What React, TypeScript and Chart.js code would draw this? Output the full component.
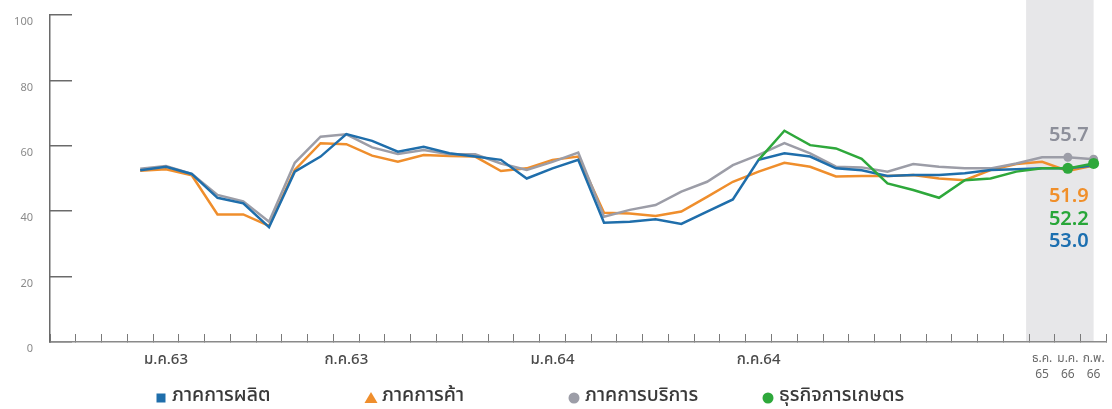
import React, { useEffect, useRef } from "react";
import { Chart, registerables } from "chart.js";

Chart.register(...registerables);

const FONT = '"Noto Sans Thai", "Kanit", "Prompt", "Sarabun", "Noto Sans", "DejaVu Sans", sans-serif';

// x categories (one per month slot; blanks carry no label)
const categories: (string | string[])[] = [
  "", "", "", "", "ม.ค.63", "", "", "", "", "", "",
  "ก.ค.63", "", "", "", "", "", "", "",
  "ม.ค.64", "", "", "", "", "", "", "",
  "ก.ค.64", "", "", "", "", "", "", "", "", "", "",
  ["ธ.ค.", "65"], ["ม.ค.", "66"], ["ก.พ.", "66"],
];

const seriesNames = ["ภาคการผลิต", "ภาคการค้า", "ภาคการบริการ", "ธุรกิจการเกษตร"];

const manufacturing: (number | null)[] = [
  null, null, null,
  52.5, 53.6, 51.4, 44.1, 42.4, 35.1, 52.1, 56.7, 63.6, 61.5,
  58.2, 59.7, 57.7, 56.7, 55.7, 50.0, 53.1, 55.7, 36.5, 36.8,
  37.5, 36.1, 39.9, 43.6, 55.7, 57.7, 56.7, 53.1, 52.5, 50.8,
  51.1, 51.1, 51.6, 52.6, 52.8, 53.1, 53.1, 54.0,
];

const trade: (number | null)[] = [
  null, null, null,
  52.4, 52.8, 51.0, 39.0, 39.0, 35.5, 52.6, 60.8, 60.5, 57.0,
  55.1, 57.2, 56.9, 56.7, 52.3, 53.1, 55.7, 56.7, 39.5, 39.3,
  38.5, 39.9, 44.4, 49.0, 52.1, 54.8, 53.6, 50.6, 50.8, 50.8,
  51.1, 50.0, 49.5, 52.6, 54.4, 55.1, 52.3, 54.0,
];

const services: (number | null)[] = [
  null, null, null,
  53.0, 53.8, 51.4, 45.0, 43.0, 36.8, 54.8, 62.8, 63.5, 59.5,
  57.5, 58.7, 57.4, 57.4, 54.6, 52.6, 55.1, 57.9, 38.3, 40.4,
  41.9, 46.0, 49.0, 54.1, 57.2, 60.8, 57.7, 53.6, 53.4, 52.1,
  54.4, 53.6, 53.1, 53.1, 54.6, 56.5, 56.5, 55.9,
];

const agriculture: (number | null)[] = [
  null, null, null,
  null, null, null, null, null, null, null, null, null, null,
  null, null, null, null, null, null, null, null, null, null,
  null, null, null, null,
  55.7, 64.6, 60.2, 59.2, 56.0, 48.5, 46.5, 44.1, 49.5, 50.0,
  52.1, 53.1, 53.1, 54.6,
];

const yTicks = [0, 20, 40, 60, 80, 100];

// latest readings printed beside the end of the lines
const latestLabels = ["55.7", "51.9", "52.2", "53.0"];

const COLORS = {
  blue: "#1f6eab",
  orange: "#ef8e2c",
  gray: "#9c9da7",
  green: "#2ea83b",
};
const LABEL_COLORS = {
  blue: "#1c6fb0",
  orange: "#f08f2a",
  gray: "#8d8f9a",
  green: "#27a638",
};

const legendShapes = ["rect", "triangle", "circle", "circle"];

export default function App() {
  const ref = useRef<HTMLCanvasElement | null>(null);

  useEffect(() => {
    const canvas = ref.current;
    if (!canvas) return;
    const lastIdx = categories.length - 1;

    const bandPlugin = {
      id: "band",
      beforeDraw(chart: any) {
        const { ctx, chartArea, scales } = chart;
        const xs = scales.x;
        const step = xs.getPixelForValue(1) - xs.getPixelForValue(0);
        const left = xs.getPixelForValue(lastIdx - 2) - step * 0.62;
        const right = xs.getPixelForValue(lastIdx);
        ctx.save();
        ctx.fillStyle = "#e7e7e9";
        ctx.fillRect(left, 0, right - left, chartArea.bottom);
        ctx.restore();
      },
    };

    const labelsPlugin = {
      id: "endLabels",
      afterDatasetsDraw(chart: any) {
        const { ctx, scales } = chart;
        const xs = scales.x;
        const ys = scales.y;
        const x = xs.getPixelForValue(lastIdx - 1) + 1;
        const yGray = ys.getPixelForValue(services[lastIdx - 1] as number);
        const yGreen = ys.getPixelForValue(agriculture[lastIdx - 1] as number);
        ctx.save();
        ctx.font = `600 20px ${FONT}`;
        ctx.textAlign = "center";
        ctx.textBaseline = "middle";
        const cols = [LABEL_COLORS.gray, LABEL_COLORS.orange, LABEL_COLORS.green, LABEL_COLORS.blue];
        const ys2 = [yGray - 20, yGreen + 30, yGreen + 53, yGreen + 75];
        latestLabels.forEach((t, i) => {
          ctx.fillStyle = cols[i];
          ctx.fillText(t, x, ys2[i]);
        });
        ctx.restore();
      },
    };

    const legendPlugin = {
      id: "customLegend",
      afterDraw(chart: any) {
        const { ctx } = chart;
        const cy = 398;
        const centers = [161, 371, 574, 768];
        const cols = [COLORS.blue, COLORS.orange, COLORS.gray, COLORS.green];
        ctx.save();
        ctx.font = `500 19.5px ${FONT}`;
        ctx.textAlign = "left";
        ctx.textBaseline = "middle";
        seriesNames.forEach((name, i) => {
          const cx = centers[i];
          ctx.fillStyle = cols[i];
          const shape = legendShapes[i];
          ctx.beginPath();
          if (shape === "rect") {
            ctx.rect(cx - 4.5, cy - 4.5, 9, 9);
          } else if (shape === "triangle") {
            ctx.moveTo(cx, cy - 6);
            ctx.lineTo(cx + 6.5, cy + 5);
            ctx.lineTo(cx - 6.5, cy + 5);
            ctx.closePath();
          } else {
            ctx.arc(cx, cy, 5.5, 0, Math.PI * 2);
          }
          ctx.fill();
          ctx.fillStyle = "#3a3a3a";
          ctx.fillText(name, cx + 11, cy - 1);
        });
        ctx.restore();
      },
    };

    const endPoint = (r: number) => (c: any) => (c.dataIndex >= lastIdx - 1 ? r : 0);

    const chart = new Chart(canvas, {
      type: "line",
      data: {
        labels: categories as any,
        datasets: [
          {
            label: seriesNames[0],
            data: manufacturing,
            borderColor: COLORS.blue,
            backgroundColor: COLORS.blue,
            borderWidth: 2.5,
            pointRadius: 0,
            order: 1,
          },
          {
            label: seriesNames[1],
            data: trade,
            borderColor: COLORS.orange,
            backgroundColor: COLORS.orange,
            borderWidth: 2.5,
            pointRadius: 0,
            order: 3,
          },
          {
            label: seriesNames[2],
            data: services,
            borderColor: COLORS.gray,
            backgroundColor: COLORS.gray,
            borderWidth: 2.5,
            pointRadius: endPoint(4.5),
            pointBorderWidth: 0,
            order: 2,
          },
          {
            label: seriesNames[3],
            data: agriculture,
            borderColor: COLORS.green,
            backgroundColor: COLORS.green,
            borderWidth: 2.5,
            pointRadius: endPoint(5.5),
            pointBorderWidth: 0,
            order: 0,
          },
        ],
      },
      options: {
        responsive: false,
        animation: false,
        spanGaps: false,
        layout: { padding: { top: 15, right: 0, bottom: 0, left: 0 } },
        plugins: {
          legend: { display: false },
          tooltip: { enabled: false },
        },
        scales: {
          x: {
            type: "category",
            offset: true,
            grid: {
              offset: true,
              drawOnChartArea: false,
              drawTicks: true,
              tickLength: -8,
              color: "#7a7a7a",
              lineWidth: 1,
            },
            border: { display: true, color: "#8a8a8a", width: 1.5 },
            ticks: {
              autoSkip: false,
              maxRotation: 0,
              padding: 18,
              color: (c: any) => (Array.isArray(categories[c.index]) ? "#6a6a6a" : "#4a4a4a"),
              font: (c: any) =>
                Array.isArray(categories[c.index])
                  ? { family: FONT, size: 12, lineHeight: 1.3 }
                  : { family: FONT, size: 15, weight: "500" },
            },
            afterFit: (s: any) => {
              s.height = 67;
              s.paddingLeft = 0;
              s.paddingRight = 0;
            },
          },
          y: {
            min: 0,
            max: 100,
            afterBuildTicks: (s: any) => {
              s.ticks = yTicks.map((v) => ({ value: v }));
            },
            grid: {
              drawOnChartArea: false,
              drawTicks: true,
              tickLength: -22,
              color: "#6a6a6a",
              lineWidth: 1.5,
            },
            border: { display: true, color: "#6a6a6a", width: 1.5 },
            ticks: {
              padding: 39,
              labelOffset: 8,
              color: "#8a8a8a",
              font: { family: FONT, size: 11 },
            },
            afterFit: (s: any) => {
              s.width = 50;
              s.paddingTop = 0;
              s.paddingBottom = 0;
            },
          },
        },
      },
      plugins: [bandPlugin, labelsPlugin, legendPlugin],
    });

    return () => chart.destroy();
  }, []);

  return (
    <div style={{ position: "absolute", left: 0, top: 0, width: 1112, height: 409, background: "#fff" }}>
      <canvas ref={ref} width={1112} height={409} style={{ width: 1112, height: 409, display: "block" }} />
    </div>
  );
}
